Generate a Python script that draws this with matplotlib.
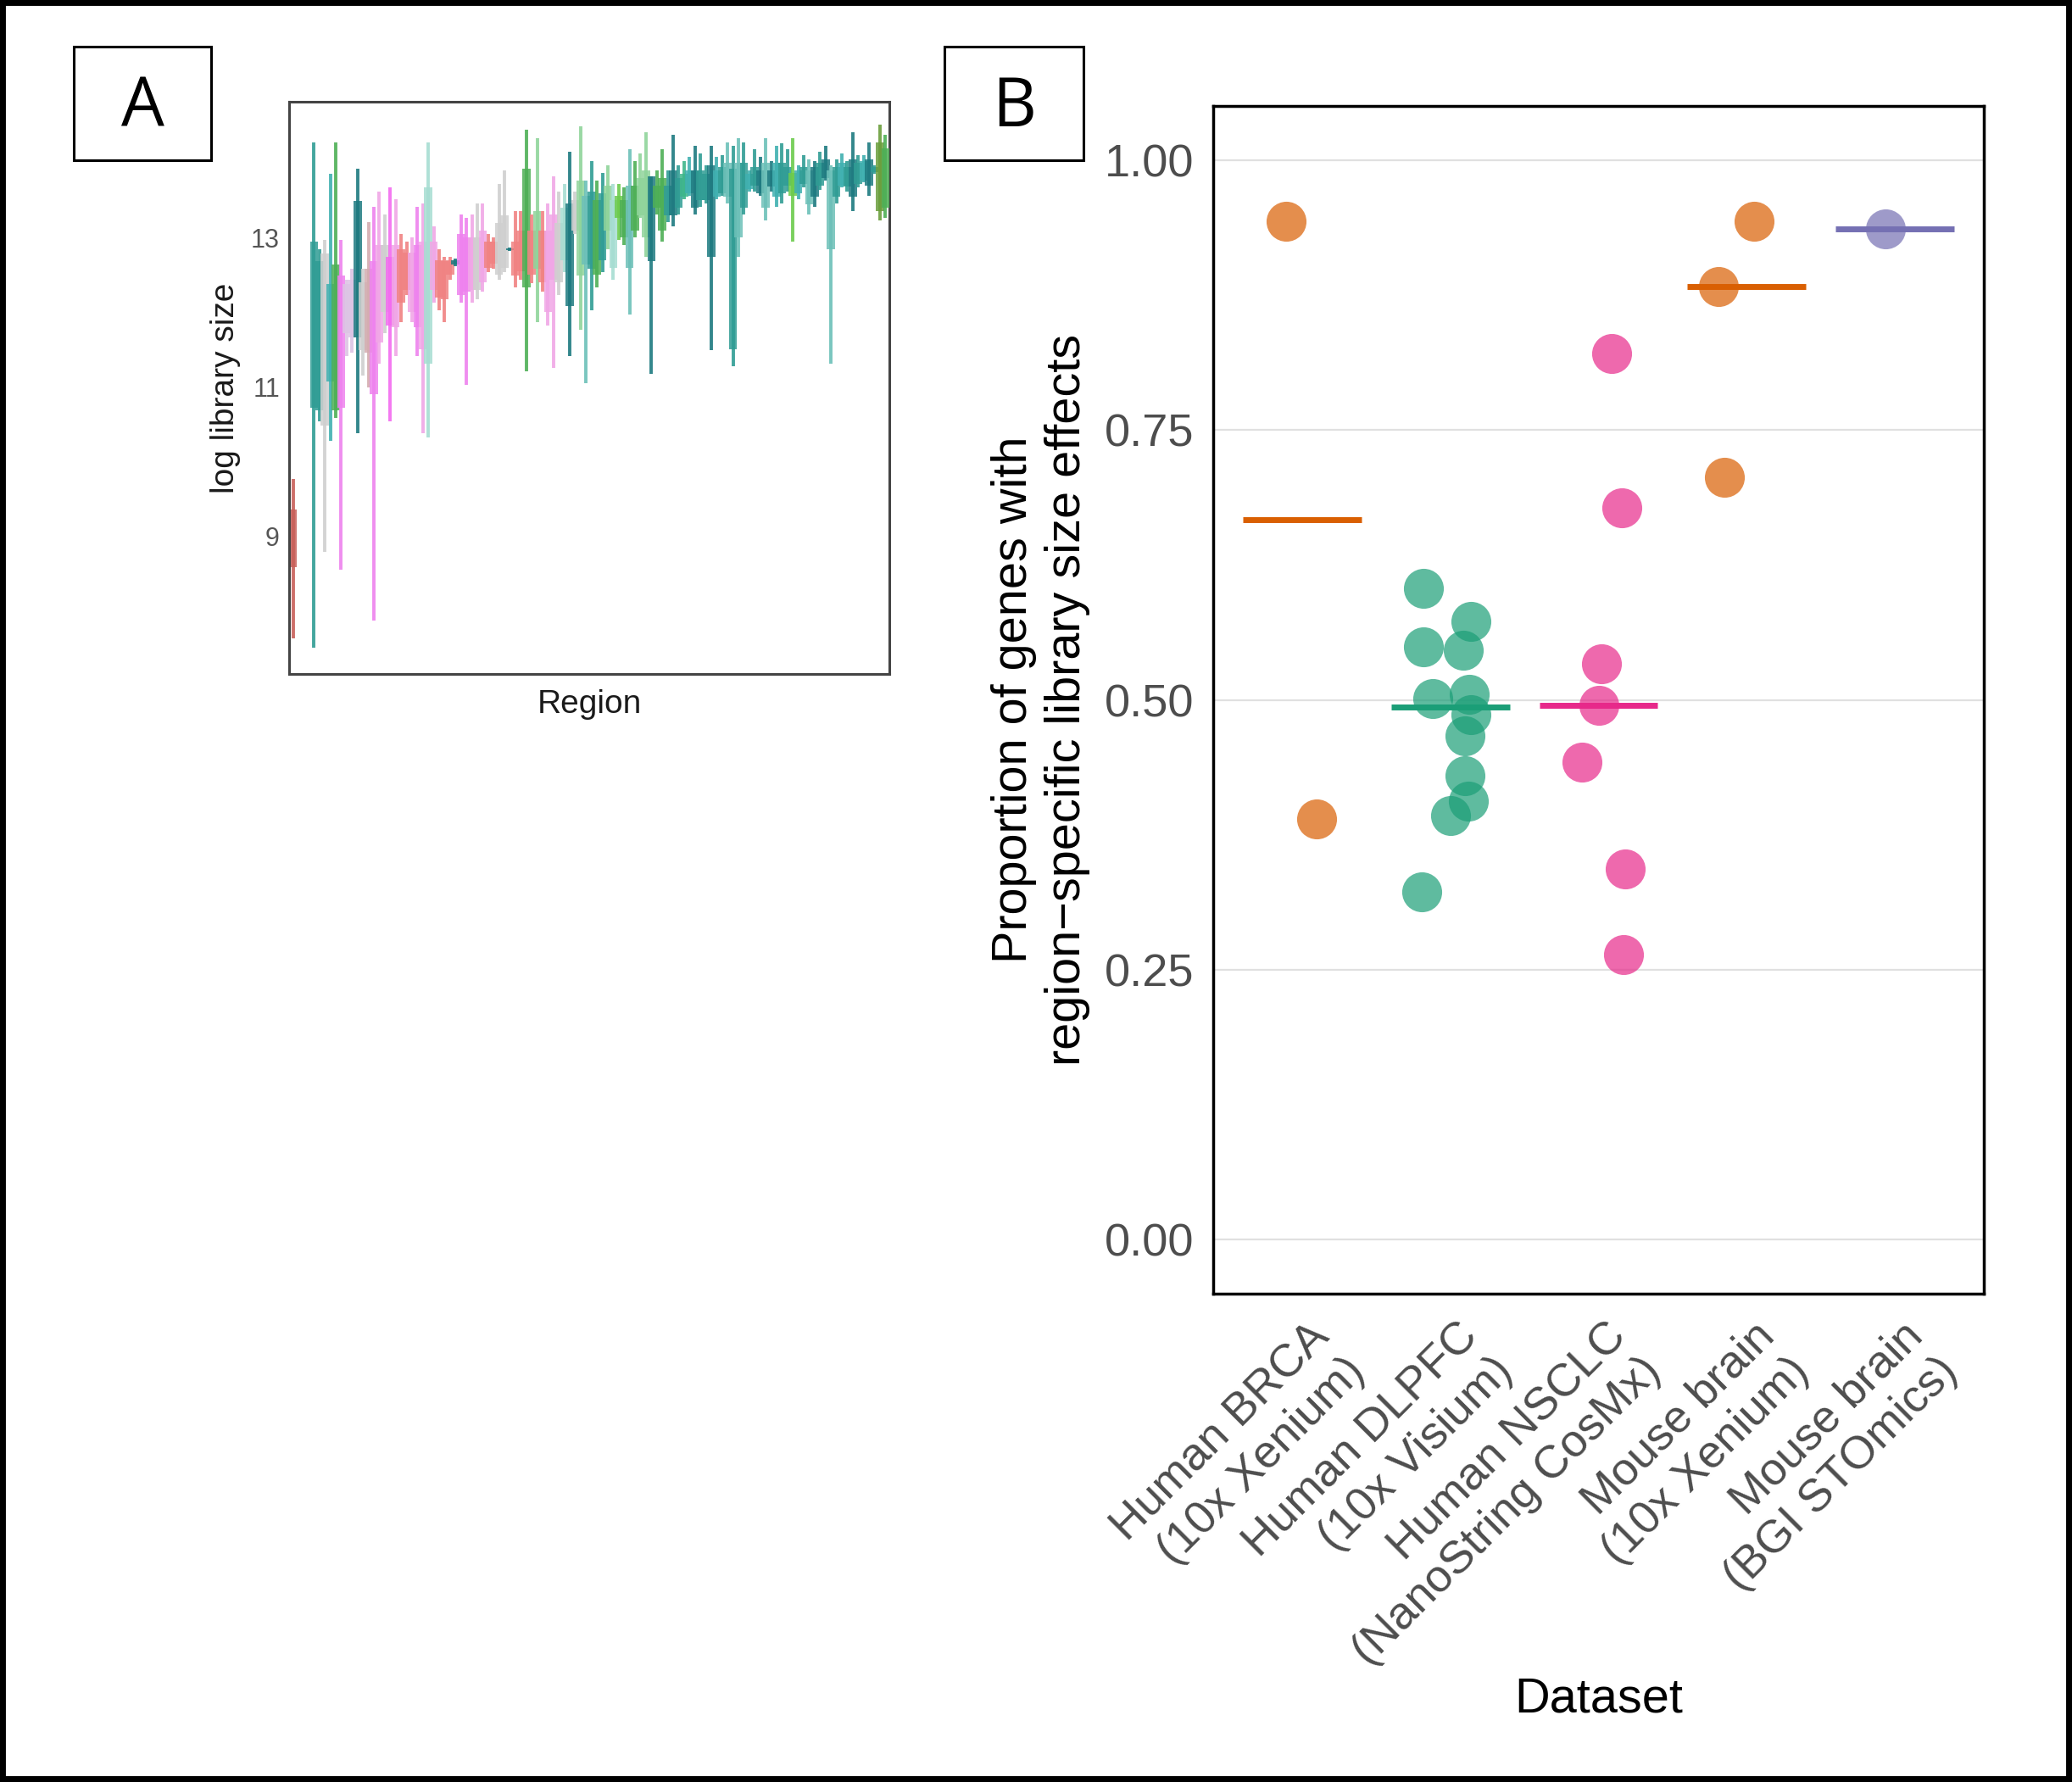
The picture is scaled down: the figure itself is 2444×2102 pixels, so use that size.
import numpy as np
import matplotlib
matplotlib.use("Agg")
import matplotlib.pyplot as plt
from matplotlib.patches import Rectangle
from matplotlib.transforms import ScaledTranslation

plt.rcParams['font.family'] = ['Liberation Sans', 'DejaVu Sans']

# ---------------- Panel A data: per-region box statistics (log library size) ----------------
region_hi = [9.77, 14.28, 12.85, 12.97, 13.85, 14.28, 12.97, 12.44, 12.59, 13.92,
             12.59, 13.21, 13.41, 13.62, 13.31, 13.67, 13.51, 13.05, 12.95, 13.00,
             13.41, 13.46, 14.28, 13.15, 12.85, 12.74, 12.74, 12.72, 13.31, 13.26,
             13.31, 13.46, 13.46, 13.05, 13.00, 13.72, 13.90, 12.87, 13.36, 13.36,
             14.44, 13.31, 14.33, 13.36, 13.46, 13.82, 13.62, 13.72, 14.15, 13.62,
             14.49, 13.77, 14.03, 13.77, 13.87, 13.97, 13.72, 13.72, 13.67, 14.18,
             14.03, 14.13, 14.41, 13.82, 13.90, 14.18, 13.90, 14.38, 13.97, 14.03,
             14.08, 14.23, 14.13, 13.97, 14.23, 14.08, 14.10, 14.28, 14.23, 14.33,
             14.28, 13.90, 14.18, 14.08, 14.33, 14.03, 14.23, 14.26, 14.18, 14.33,
             13.97, 14.10, 14.05, 14.03, 14.15, 14.23, 13.97, 14.05, 14.13, 14.03,
             14.41, 14.10, 14.10, 14.28, 13.97, 14.51, 14.38]
region_q3 = [9.36, 12.95, 12.69, 12.79, 12.38, 12.64, 12.49, 12.38, 12.44, 13.49,
             12.40, 12.59, 12.69, 12.90, 12.90, 12.74, 12.90, 12.85, 12.80, 12.80,
             12.90, 12.95, 13.67, 12.95, 12.70, 12.69, 12.70, 12.70, 13.05, 13.00,
             13.00, 13.00, 13.10, 12.95, 12.95, 13.20, 13.30, 12.86, 12.95, 13.10,
             13.92, 13.10, 13.36, 13.10, 13.10, 13.31, 13.20, 13.40, 13.46, 13.50,
             13.77, 13.56, 13.62, 13.50, 13.60, 13.70, 13.50, 13.56, 13.50, 13.70,
             13.70, 13.80, 13.90, 13.82, 13.70, 13.80, 13.70, 13.90, 13.80, 13.85,
             13.90, 13.90, 13.90, 13.85, 13.97, 13.90, 13.95, 14.00, 13.92, 14.00,
             14.00, 13.85, 13.95, 13.90, 14.00, 13.90, 14.00, 14.00, 13.95, 13.87,
             13.90, 13.95, 13.90, 13.95, 14.00, 14.05, 13.90, 13.95, 14.00, 13.95,
             14.05, 14.00, 14.03, 14.05, 13.95, 14.28, 14.20]
region_q1 = [8.59, 10.72, 10.69, 10.49, 11.08, 10.69, 10.72, 11.72, 11.67, 11.67,
             11.50, 11.46, 10.90, 11.60, 12.00, 11.82, 11.80, 12.13, 12.30, 12.00,
             11.80, 11.51, 11.31, 12.30, 12.20, 12.18, 12.50, 12.64, 12.23, 12.28,
             12.30, 12.30, 12.40, 12.60, 12.65, 12.50, 12.60, 12.83, 12.49, 12.55,
             12.33, 12.50, 12.59, 12.40, 12.00, 12.44, 12.40, 12.70, 12.08, 13.10,
             12.49, 12.64, 12.59, 12.50, 12.70, 13.10, 12.60, 13.26, 13.00, 12.60,
             13.10, 13.30, 13.00, 12.69, 13.40, 13.10, 13.30, 13.30, 13.40, 13.55,
             13.60, 13.40, 13.50, 13.50, 12.74, 13.55, 13.60, 13.55, 11.51, 13.00,
             13.40, 13.65, 13.70, 13.60, 13.40, 13.68, 13.55, 13.60, 13.70, 13.56,
             13.60, 13.72, 13.45, 13.55, 13.70, 13.80, 12.85, 13.55, 13.70, 13.68,
             13.55, 13.72, 13.77, 13.70, 13.88, 13.36, 13.40]
region_lo = [7.64, 7.51, 10.54, 8.79, 10.28, 10.59, 8.56, 11.41, 11.46, 10.38,
             11.15, 11.00, 7.87, 11.31, 11.72, 10.54, 11.41, 11.87, 12.23, 11.87,
             11.41, 10.38, 10.33, 12.13, 12.03, 11.87, 12.44, 12.62, 12.13, 11.03,
             12.13, 12.18, 12.28, 12.54, 12.59, 12.44, 12.54, 12.82, 12.33, 12.44,
             11.21, 12.39, 11.87, 12.28, 11.82, 11.26, 12.23, 12.54, 11.41, 13.05,
             11.77, 11.05, 12.03, 12.33, 12.54, 12.85, 12.44, 12.97, 12.90, 11.97,
             13.00, 13.26, 12.74, 11.18, 13.31, 12.95, 13.21, 13.15, 13.31, 13.51,
             13.56, 13.31, 13.41, 13.46, 11.49, 13.51, 13.56, 13.46, 11.28, 12.74,
             13.31, 13.62, 13.62, 13.56, 13.23, 13.62, 13.41, 13.46, 13.62, 12.95,
             13.51, 13.67, 13.31, 13.41, 13.64, 13.77, 11.31, 13.46, 13.67, 13.62,
             13.36, 13.67, 13.74, 13.56, 13.85, 13.23, 13.26]
region_group = ['red', 'teal', 'teal', 'gray', 'cyan', 'green', 'violet', 'lav', 'lav', 'dkteal',
                'gray', 'rose', 'violet', 'ltpink', 'gray', 'magenta', 'ltpink', 'salmon', 'salmon', 'ltpink',
                'violet', 'ltpink', 'ltcyan', 'ltpink', 'salmon', 'salmon', 'salmon', 'dkteal', 'violet', 'violet',
                'ltpink', 'gray', 'ltpink', 'salmon', 'salmon', 'gray', 'gray', 'dkteal', 'salmon', 'salmon',
                'green', 'salmon', 'ltgreen', 'salmon', 'ltpink', 'ltpink', 'gray', 'ltcyan', 'dkteal', 'gray',
                'ltgreen', 'midcyan', 'teal', 'green', 'teal', 'ltgreen', 'ltcyan', 'bgreen', 'green', 'midcyan',
                'green', 'ltgreen', 'ltgreen', 'dkteal', 'green', 'green', 'teal', 'dkteal', 'teal', 'seagreen',
                'cyan', 'dkteal', 'teal', 'teal', 'dkteal', 'cyan', 'teal', 'midcyan', 'teal', 'midcyan',
                'teal', 'cyan', 'teal', 'dkteal', 'midcyan', 'dkteal', 'cyan', 'teal', 'teal', 'bgreen',
                'cyan', 'teal', 'midcyan', 'dkteal', 'teal', 'dkteal', 'midcyan', 'teal', 'cyan', 'teal',
                'dkteal', 'teal', 'cyan', 'dkteal', 'teal', 'olive', 'green']

group_colors = {
    'red': '#C8605A', 'teal': '#2F9C94', 'dkteal': '#1D7A80', 'cyan': '#3FB0B0',
    'midcyan': '#6CC0B8', 'ltcyan': '#A6DDD2', 'green': '#4DAF55', 'ltgreen': '#8FD49A',
    'bgreen': '#6CCB4C', 'seagreen': '#3DB58A', 'olive': '#6A9E3C', 'violet': '#EE82EE',
    'magenta': '#F36AF0', 'ltpink': '#F0A6E6', 'lav': '#DCC4E4', 'rose': '#D4ACB0',
    'salmon': '#F08282', 'gray': '#CFCFCF',
}
a_yticks = [9, 11, 13]

# ---------------- Panel B data ----------------
datasets = ['Human BRCA\n(10x Xenium)', 'Human DLPFC\n(10x Visium)',
            'Human NSCLC\n(NanoString CosMx)', 'Mouse brain\n(10x Xenium)',
            'Mouse brain\n(BGI STOmics)']
brca_vals = [0.943, 0.390]
brca_jit = [-0.11, 0.10]
dlpfc_vals = [0.603, 0.573, 0.549, 0.546, 0.501, 0.505, 0.486, 0.467, 0.430, 0.406, 0.393, 0.322]
dlpfc_jit = [-0.18, 0.14, -0.18, 0.09, -0.12, 0.13, 0.14, 0.10, 0.10, 0.12, 0.00, -0.19]
nsclc_vals = [0.821, 0.678, 0.533, 0.495, 0.442, 0.343, 0.264]
nsclc_jit = [0.09, 0.16, 0.02, 0.00, -0.11, 0.18, 0.17]
mxen_vals = [0.943, 0.883, 0.706]
mxen_jit = [0.05, -0.19, -0.15]
bgi_vals = [0.936]
bgi_jit = [-0.065]
b_yticks = [0.00, 0.25, 0.50, 0.75, 1.00]

group_vals = [brca_vals, dlpfc_vals, nsclc_vals, mxen_vals, bgi_vals]
group_jit = [brca_jit, dlpfc_jit, nsclc_jit, mxen_jit, bgi_jit]
dataset_colors = ['#D95F02', '#1B9E77', '#E7298A', '#D95F02', '#7570B3']

# ---------------- Figure ----------------
W, H = 2444, 2102
fig = plt.figure(figsize=(W / 100, H / 100), dpi=100)
fig.patch.set_facecolor('white')

def frac_rect(x0, y0, x1, y1):
    return [x0 / W, 1 - y1 / H, (x1 - x0) / W, (y1 - y0) / H]

# ---- Panel A ----
axA = fig.add_axes(frac_rect(341, 120, 1049, 795))
n = len(region_hi)
# region slots: first (isolated) region, then a small gap before the rest
xs = np.concatenate([[0.0], np.arange(1, n) + 2.85])
for i in range(n):
    c = group_colors[region_group[i]]
    axA.vlines(xs[i], region_lo[i], region_hi[i], colors=c, linewidth=2.8, alpha=0.9, zorder=2 + i * 0.01)
    axA.bar(xs[i], region_q3[i] - region_q1[i], bottom=region_q1[i], width=1.5,
            color=c, alpha=0.85, linewidth=0, zorder=2 + i * 0.01 + 0.005)
axA.set_xlim(xs[0] - 0.73, xs[-1] + 0.73)
axA.set_ylim(7.16, 14.82)
axA.set_yticks(a_yticks)
axA.set_yticklabels([str(t) for t in a_yticks])
axA.set_xticks([])
axA.tick_params(axis='y', length=0, pad=8, labelsize=22, labelcolor='#555555')
for s in axA.spines.values():
    s.set_color('#444444')
    s.set_linewidth(2.2)
axA.set_ylabel('log library size', fontsize=28, color='#1a1a1a')
axA.yaxis.set_label_coords(-0.080, 0.5)
axA.set_xlabel('Region', fontsize=28, color='#1a1a1a')
axA.xaxis.set_label_coords(0.5, -0.027)

# ---- Panel B ----
axB = fig.add_axes(frac_rect(1431, 125, 2340, 1526))
axB.set_xlim(0.4, 5.6)
axB.set_ylim(-0.05, 1.05)
for t in b_yticks:
    axB.axhline(t, color='#E0E0E0', linewidth=1.6, zorder=0)
for k, (vals, jit) in enumerate(zip(group_vals, group_jit)):
    xpos = k + 1 + np.array(jit)
    axB.scatter(xpos, vals, s=1150, color=dataset_colors[k], alpha=0.7, linewidths=0, zorder=3)
    med = np.median(vals)
    axB.hlines(med, k + 1 - 0.4, k + 1 + 0.4, colors=dataset_colors[k], linewidth=5, zorder=4)
axB.set_yticks(b_yticks)
axB.set_yticklabels([f'{t:.2f}' for t in b_yticks])
axB.set_xticks(np.arange(1, len(datasets) + 1))
axB.set_xticklabels(datasets)
axB.tick_params(axis='y', length=0, pad=16, labelsize=39, labelcolor='#4D4D4D')
axB.tick_params(axis='x', length=0, pad=18, labelsize=39, labelcolor='#4D4D4D')
for lab in axB.get_xticklabels():
    lab.set_rotation(45)
    lab.set_ha('right')
    lab.set_va('top')
    lab.set_rotation_mode('anchor')
    lab.set_multialignment('right')
    lab.set_transform(lab.get_transform() + ScaledTranslation(0.07, 0, fig.dpi_scale_trans))
for s in axB.spines.values():
    s.set_color('black')
    s.set_linewidth(2.5)
axB.set_ylabel('Proportion of genes with\nregion\u2212specific library size effects', fontsize=41.5, color='black')
axB.yaxis.set_label_coords(-0.160, 0.5)
axB.set_xlabel('Dataset', fontsize=41.5, color='black')
axB.xaxis.set_label_coords(0.5005, -0.322)

# ---- Panel letter boxes ----
for (x0, y0, x1, y1, letter) in [(87, 55, 249, 189, 'A'), (1114, 55, 1278, 189, 'B')]:
    r = frac_rect(x0, y0, x1, y1)
    fig.patches.append(Rectangle((r[0], r[1]), r[2], r[3], transform=fig.transFigure,
                                 fill=False, edgecolor='black', linewidth=2.2))
    fig.text(r[0] + r[2] / 2, r[1] + r[3] / 2 + 0.002, letter, fontsize=58, family=['Open Sans', 'DejaVu Sans'],
             ha='center', va='center_baseline', color='black')

# ---- Outer frame ----
fig.patches.append(Rectangle((0, 0), 1, 1, transform=fig.transFigure, fill=False,
                             edgecolor='black', linewidth=10))

fig.savefig('out.png', dpi=100, facecolor='white')
